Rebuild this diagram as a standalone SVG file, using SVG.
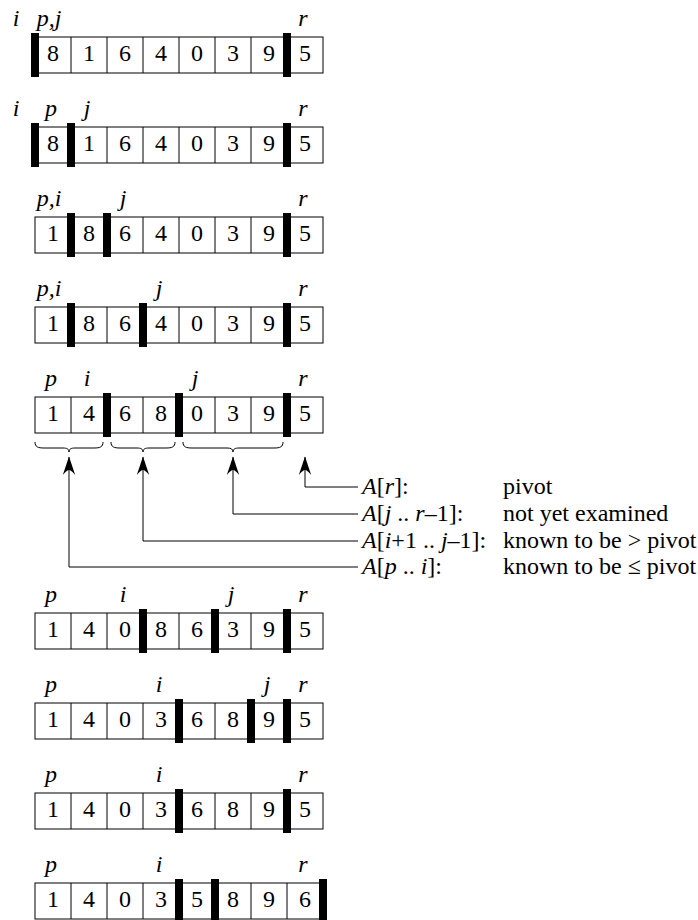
<svg xmlns="http://www.w3.org/2000/svg" width="698" height="920" viewBox="0 0 698 920" font-family="'Liberation Serif', 'Times New Roman', serif" font-size="24">
<style>
.cell{fill:#fff;stroke:#000;stroke-width:1}
.bar{fill:#000}
.num{text-anchor:middle}
.lab{font-style:italic;text-anchor:middle}
.it{font-style:italic}
.brace{fill:none;stroke:#000;stroke-width:1}
.conn{fill:none;stroke:#000;stroke-width:1;marker-end:url(#arr)}
</style>
<defs>
<marker id="arr" viewBox="-19 -8 20 16" refX="0" refY="0" markerWidth="20" markerHeight="16" markerUnits="userSpaceOnUse" orient="auto" overflow="visible">
<path d="M0.5,0 L-18,-6.2 Q-13,-2 -13,0 Q-13,2 -18,6.2 Z" fill="#000"/>
</marker>
<g id="grid">
<rect class="cell" x="35" y="0" width="288" height="36"/>
<path d="M71,0V36M107,0V36M143,0V36M179,0V36M215,0V36M251,0V36M287,0V36" stroke="#000" stroke-width="1"/>
</g>
</defs>

<g id="row1">
<use href="#grid" y="37"/>
<text class="num" y="61"><tspan x="53">8</tspan><tspan x="89">1</tspan><tspan x="125">6</tspan><tspan x="161">4</tspan><tspan x="197">0</tspan><tspan x="233">3</tspan><tspan x="269">9</tspan><tspan x="305">5</tspan></text>
<rect class="bar" x="31" y="33" width="8" height="44"/>
<rect class="bar" x="283" y="33" width="8" height="44"/>
<text class="lab" y="26"><tspan x="16">i</tspan><tspan x="49">p,j</tspan><tspan x="303">r</tspan></text>
</g>

<g id="row2">
<use href="#grid" y="127"/>
<text class="num" y="151"><tspan x="53">8</tspan><tspan x="89">1</tspan><tspan x="125">6</tspan><tspan x="161">4</tspan><tspan x="197">0</tspan><tspan x="233">3</tspan><tspan x="269">9</tspan><tspan x="305">5</tspan></text>
<rect class="bar" x="31" y="123" width="8" height="44"/>
<rect class="bar" x="67" y="123" width="8" height="44"/>
<rect class="bar" x="283" y="123" width="8" height="44"/>
<text class="lab" y="116"><tspan x="16">i</tspan><tspan x="51">p</tspan><tspan x="87">j</tspan><tspan x="303">r</tspan></text>
</g>

<g id="row3">
<use href="#grid" y="217"/>
<text class="num" y="241"><tspan x="53">1</tspan><tspan x="89">8</tspan><tspan x="125">6</tspan><tspan x="161">4</tspan><tspan x="197">0</tspan><tspan x="233">3</tspan><tspan x="269">9</tspan><tspan x="305">5</tspan></text>
<rect class="bar" x="67" y="213" width="8" height="44"/>
<rect class="bar" x="103" y="213" width="8" height="44"/>
<rect class="bar" x="283" y="213" width="8" height="44"/>
<text class="lab" y="206"><tspan x="49">p,i</tspan><tspan x="123">j</tspan><tspan x="303">r</tspan></text>
</g>

<g id="row4">
<use href="#grid" y="307"/>
<text class="num" y="331"><tspan x="53">1</tspan><tspan x="89">8</tspan><tspan x="125">6</tspan><tspan x="161">4</tspan><tspan x="197">0</tspan><tspan x="233">3</tspan><tspan x="269">9</tspan><tspan x="305">5</tspan></text>
<rect class="bar" x="67" y="303" width="8" height="44"/>
<rect class="bar" x="139" y="303" width="8" height="44"/>
<rect class="bar" x="283" y="303" width="8" height="44"/>
<text class="lab" y="296"><tspan x="49">p,i</tspan><tspan x="159">j</tspan><tspan x="303">r</tspan></text>
</g>

<g id="row5">
<use href="#grid" y="397"/>
<text class="num" y="421"><tspan x="53">1</tspan><tspan x="89">4</tspan><tspan x="125">6</tspan><tspan x="161">8</tspan><tspan x="197">0</tspan><tspan x="233">3</tspan><tspan x="269">9</tspan><tspan x="305">5</tspan></text>
<rect class="bar" x="103" y="393" width="8" height="44"/>
<rect class="bar" x="175" y="393" width="8" height="44"/>
<rect class="bar" x="283" y="393" width="8" height="44"/>
<text class="lab" y="386"><tspan x="51">p</tspan><tspan x="87">i</tspan><tspan x="195">j</tspan><tspan x="303">r</tspan></text>
</g>

<g id="braces">
<path class="brace" d="M35,442 C35,447 38,448 44,448 L63,448 C67,448 69,449 69,452 C69,449 71,448 75,448 L94,448 C100,448 103,447 103,442"/>
<path class="brace" d="M111,442 C111,447 114,448 120,448 L137,448 C141,448 143,449 143,452 C143,449 145,448 149,448 L166,448 C172,448 175,447 175,442"/>
<path class="brace" d="M183,442 C183,447 186,448 192,448 L227,448 C231,448 233,449 233,452 C233,449 235,448 239,448 L274,448 C280,448 283,447 283,442"/>
</g>

<g id="connectors">
<path class="conn" d="M358,487 H305 V457"/>
<path class="conn" d="M358,514 H233 V457"/>
<path class="conn" d="M358,541 H143 V457"/>
<path class="conn" d="M358,567 H69 V457"/>
</g>

<g id="legend-pivot">
<text x="362" y="494"><tspan class="it">A</tspan>[<tspan class="it">r</tspan>]:</text>
<text x="503" y="494">pivot</text>
</g>
<g id="legend-unexamined">
<text x="362" y="521"><tspan class="it">A</tspan>[<tspan class="it">j</tspan> .. <tspan class="it">r</tspan>–1]:</text>
<text x="503" y="521">not yet examined</text>
</g>
<g id="legend-greater">
<text x="362" y="548"><tspan class="it">A</tspan>[<tspan class="it">i</tspan>+1 .. <tspan class="it">j</tspan>–1]:</text>
<text x="503" y="548">known to be &gt; pivot</text>
</g>
<g id="legend-lesseq">
<text x="362" y="574"><tspan class="it">A</tspan>[<tspan class="it">p</tspan> .. <tspan class="it">i</tspan>]:</text>
<text x="503" y="574">known to be ≤ pivot</text>
</g>

<g id="row6">
<use href="#grid" y="613"/>
<text class="num" y="637"><tspan x="53">1</tspan><tspan x="89">4</tspan><tspan x="125">0</tspan><tspan x="161">8</tspan><tspan x="197">6</tspan><tspan x="233">3</tspan><tspan x="269">9</tspan><tspan x="305">5</tspan></text>
<rect class="bar" x="139" y="609" width="8" height="44"/>
<rect class="bar" x="211" y="609" width="8" height="44"/>
<rect class="bar" x="283" y="609" width="8" height="44"/>
<text class="lab" y="602"><tspan x="51">p</tspan><tspan x="123">i</tspan><tspan x="231">j</tspan><tspan x="303">r</tspan></text>
</g>

<g id="row7">
<use href="#grid" y="703"/>
<text class="num" y="727"><tspan x="53">1</tspan><tspan x="89">4</tspan><tspan x="125">0</tspan><tspan x="161">3</tspan><tspan x="197">6</tspan><tspan x="233">8</tspan><tspan x="269">9</tspan><tspan x="305">5</tspan></text>
<rect class="bar" x="175" y="699" width="8" height="44"/>
<rect class="bar" x="247" y="699" width="8" height="44"/>
<rect class="bar" x="283" y="699" width="8" height="44"/>
<text class="lab" y="692"><tspan x="51">p</tspan><tspan x="159">i</tspan><tspan x="267">j</tspan><tspan x="303">r</tspan></text>
</g>

<g id="row8">
<use href="#grid" y="793"/>
<text class="num" y="817"><tspan x="53">1</tspan><tspan x="89">4</tspan><tspan x="125">0</tspan><tspan x="161">3</tspan><tspan x="197">6</tspan><tspan x="233">8</tspan><tspan x="269">9</tspan><tspan x="305">5</tspan></text>
<rect class="bar" x="175" y="789" width="8" height="44"/>
<rect class="bar" x="283" y="789" width="8" height="44"/>
<text class="lab" y="782"><tspan x="51">p</tspan><tspan x="159">i</tspan><tspan x="303">r</tspan></text>
</g>

<g id="row9">
<use href="#grid" y="883"/>
<text class="num" y="907"><tspan x="53">1</tspan><tspan x="89">4</tspan><tspan x="125">0</tspan><tspan x="161">3</tspan><tspan x="197">5</tspan><tspan x="233">8</tspan><tspan x="269">9</tspan><tspan x="305">6</tspan></text>
<rect class="bar" x="175" y="879" width="8" height="44"/>
<rect class="bar" x="211" y="879" width="8" height="44"/>
<rect class="bar" x="319" y="879" width="8" height="44"/>
<text class="lab" y="872"><tspan x="51">p</tspan><tspan x="159">i</tspan><tspan x="303">r</tspan></text>
</g>
</svg>
